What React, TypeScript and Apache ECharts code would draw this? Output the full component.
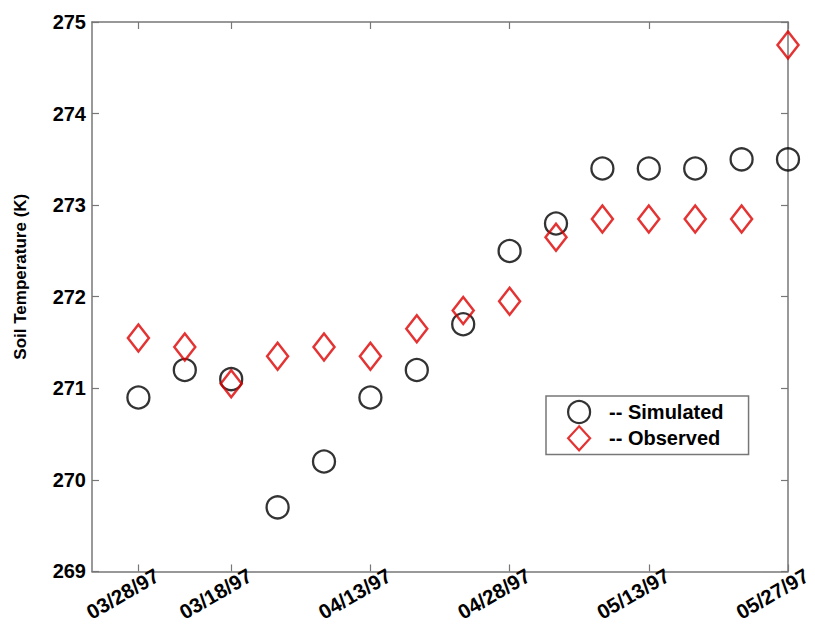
import React, { useEffect, useRef } from "react";
import * as echarts from "echarts";

const dayIndex = [1, 2, 3, 4, 5, 6, 7, 8, 9, 10, 11, 12, 13, 14, 15];
const tickValues = [1, 3, 6, 9, 12, 15];
const tickLabels = ["03/28/97", "03/18/97", "04/13/97", "04/28/97", "05/13/97", "05/27/97"];
const simulated = [270.9, 271.2, 271.1, 269.7, 270.2, 270.9, 271.2, 271.7, 272.5, 272.8, 273.4, 273.4, 273.4, 273.5, 273.5];
const observed = [271.55, 271.45, 271.05, 271.35, 271.45, 271.35, 271.65, 271.85, 271.95, 272.65, 272.85, 272.85, 272.85, 272.85, 274.75];
const yTicks = [269, 270, 271, 272, 273, 274, 275];

const FONT = "'Liberation Sans', Arial, Helvetica, sans-serif";
const AXIS_COLOR = "#777";
const LABEL_SHIFT = 0.34;

export default function App() {
  const ref = useRef<HTMLDivElement>(null);
  useEffect(() => {
    if (!ref.current) return;
    const chart = echarts.init(ref.current, null, { renderer: "svg" });
    const tickCfg = {
      show: true,
      inside: true,
      length: 7,
      lineStyle: { color: AXIS_COLOR, width: 1.2 },
    };
    const baseX = {
      type: "value",
      min: 0,
      max: 15,
      splitLine: { show: false },
      axisLine: { show: true, onZero: false, lineStyle: { color: AXIS_COLOR, width: 1.5 } },
    };
    const baseY = {
      type: "value",
      min: yTicks[0],
      max: yTicks[yTicks.length - 1],
      interval: 1,
      splitLine: { show: false },
      axisLine: { show: true, onZero: false, lineStyle: { color: AXIS_COLOR, width: 1.5 } },
    };
    chart.setOption({
      animation: false,
      backgroundColor: "#fff",
      textStyle: { fontFamily: FONT },
      grid: { left: 92, right: 27, top: 22, bottom: 52 },
      legend: {
        orient: "vertical",
        left: 546,
        top: 396,
        padding: [4, 25, 3, 21],
        itemGap: 1,
        itemWidth: 22,
        itemHeight: 24,
        borderColor: AXIS_COLOR,
        borderWidth: 1.5,
        backgroundColor: "#fff",
        itemStyle: { borderWidth: 2.2 },
        textStyle: {
          fontFamily: FONT,
          fontSize: 20,
          fontWeight: "bold",
          color: "#000",
          padding: [0, 0, 0, 14],
        },
        data: ["-- Simulated", "-- Observed"],
      },
      xAxis: [
        {
          ...baseX,
          position: "bottom",
          axisTick: { ...tickCfg, customValues: tickValues },
          axisLabel: { show: false },
        },
        {
          ...baseX,
          position: "top",
          axisTick: { ...tickCfg, customValues: tickValues },
          axisLabel: { show: false },
        },
        {
          type: "value",
          min: 0,
          max: 15,
          position: "bottom",
          splitLine: { show: false },
          axisLine: { show: false },
          axisTick: { show: false },
          axisLabel: {
            show: true,
            customValues: tickValues.map((t) => t - LABEL_SHIFT),
            rotate: 30,
            align: "center",
            verticalAlign: "middle",
            margin: 22,
            fontFamily: FONT,
            fontSize: 20.5,
            fontWeight: "bold",
            color: "#000",
            formatter: (v: number) => {
              const i = tickValues.findIndex((t) => Math.abs(t - LABEL_SHIFT - v) < 1e-6);
              return i >= 0 ? tickLabels[i] : "";
            },
          },
        },
      ],
      yAxis: [
        {
          ...baseY,
          position: "left",
          axisTick: tickCfg,
          axisLabel: {
            show: true,
            margin: 6,
            fontFamily: FONT,
            fontSize: 20,
            fontWeight: "bold",
            color: "#000",
          },
          name: "Soil Temperature (K)",
          nameLocation: "middle",
          nameGap: 63,
          nameTextStyle: {
            fontFamily: FONT,
            fontSize: 17,
            fontWeight: "bold",
            color: "#000",
            padding: [0, 0, 0, 40],
          },
        },
        {
          ...baseY,
          position: "right",
          axisTick: tickCfg,
          axisLabel: { show: false },
        },
      ],
      series: [
        {
          name: "-- Simulated",
          type: "scatter",
          xAxisIndex: 0,
          yAxisIndex: 0,
          symbol: "circle",
          symbolSize: 22,
          itemStyle: { color: "rgba(255,255,255,0)", borderColor: "#000", borderWidth: 2.3 },
          data: dayIndex.map((d, i) => [d, simulated[i]]),
        },
        {
          name: "-- Observed",
          type: "scatter",
          xAxisIndex: 0,
          yAxisIndex: 0,
          symbol: "diamond",
          symbolSize: [21, 27],
          itemStyle: { color: "rgba(255,255,255,0)", borderColor: "#dd0000", borderWidth: 2.5 },
          data: dayIndex.map((d, i) => [d, observed[i]]),
        },
      ],
    });
    return () => chart.dispose();
  }, []);
  return (
    <div
      ref={ref}
      style={{ position: "fixed", left: 0, top: 0, width: 815, height: 624, background: "#fff" }}
    />
  );
}
